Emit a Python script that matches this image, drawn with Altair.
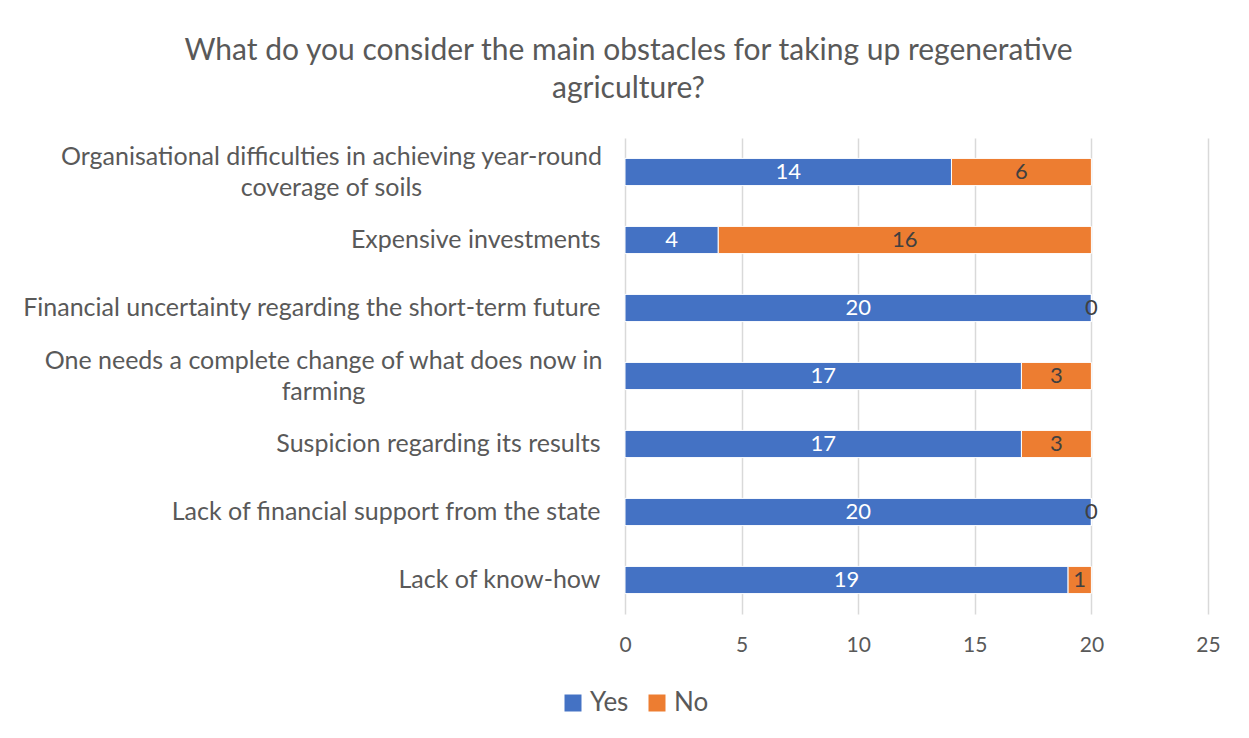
import altair as alt
import pandas as pd

categories = [
    "Organisational difficulties in achieving year-round coverage of soils",
    "Expensive investments",
    "Financial uncertainty regarding the short-term future",
    "One needs a complete change of what does now in farming",
    "Suspicion regarding its results",
    "Lack of financial support from the state",
    "Lack of know-how",
]
yes_values = [14, 4, 20, 17, 17, 20, 19]
no_values = [6, 16, 0, 3, 3, 0, 1]
series = ["Yes", "No"]
colors = ["#4472C4", "#ED7D31"]
label_colors = ["#FFFFFF", "#404040"]
x_ticks = [0, 5, 10, 15, 20, 25]

wrapped = {
    categories[0]: ["Organisational difficulties in achieving year-round", "coverage of soils"],
    categories[3]: ["One needs a complete change of what does now in", "farming"],
}
# padding (px) that puts the centred two-line block flush against the axis
wrapped_padding = {categories[0]: 294, categories[3]: 302}

rows = []
for c, y, n in zip(categories, yes_values, no_values):
    rows.append({"category": c, "series": "Yes", "value": y, "order": 0})
    rows.append({"category": c, "series": "No", "value": n, "order": 1})
df = pd.DataFrame(rows)

label_expr = ""
for k, v in wrapped.items():
    arr = "[" + ",".join("'" + s + "'" for s in v) + "]"
    label_expr += f"datum.label == '{k}' ? {arr} : "
label_expr += "datum.label"

is_wrapped = " || ".join(f"datum.value == '{k}'" for k in wrapped)

FONT = "Lato"
GREY = "#595959"

base = alt.Chart(df).transform_stack(
    stack="value", groupby=["category"], as_=["x0", "x1"],
    sort=[alt.SortField("order", order="ascending")],
).transform_calculate(mid="(datum.x0 + datum.x1) / 2")

y_axis = alt.Axis(
    labelExpr=label_expr, labelFontSize=25, labelColor=GREY,
    labelFont=FONT, labelLineHeight=31, labelLimit=800,
    ticks=False, domain=False,
    labelAlign={"condition": {"test": is_wrapped, "value": "center"}, "value": "right"},
    labelPadding={
        "condition": [{"test": f"datum.value == '{k}'", "value": v} for k, v in wrapped_padding.items()],
        "value": 25,
    },
    labelOffset={"condition": {"test": is_wrapped, "value": -15}, "value": 0},
)

y_enc = alt.Y(
    "category:N", sort=categories, title=None,
    scale=alt.Scale(paddingInner=0.6, paddingOuter=0.3),
    axis=y_axis,
)

bars = base.mark_bar(stroke="white", strokeWidth=1).encode(
    x=alt.X("x0:Q", title=None,
            scale=alt.Scale(domain=[0, 25], nice=False),
            axis=alt.Axis(values=x_ticks, grid=True, gridColor="#D9D9D9",
                          gridWidth=1.5, domain=False, ticks=False,
                          labelFontSize=21, labelColor=GREY, labelFont=FONT,
                          labelPadding=20, labelFlush=False)),
    x2="x1:Q",
    y=y_enc,
    color=alt.Color("series:N", scale=alt.Scale(domain=series, range=colors),
                    sort=series,
                    legend=alt.Legend(title=None, orient="none", direction="horizontal",
                                      legendX=-69, legendY=548,
                                      symbolType="square", symbolSize=289,
                                      symbolStrokeWidth=0, labelFontSize=26,
                                      labelColor=GREY, labelFont=FONT,
                                      labelLimit=200, padding=4,
                                      columnPadding=15, labelOffset=4)),
    order=alt.Order("order:Q"),
)

texts = base.mark_text(fontSize=22, font=FONT).encode(
    x=alt.X("mid:Q"),
    y=alt.Y("category:N", sort=categories),
    text=alt.Text("value:Q"),
    color=alt.Color("series:N", scale=alt.Scale(domain=series, range=label_colors),
                    legend=None),
)

chart = alt.layer(bars, texts).resolve_scale(color="independent").properties(
    width=583, height=476,
    background="white",
    title=alt.TitleParams(
        ["What do you consider the main obstacles for taking up regenerative", "agriculture?"],
        fontSize=30, font=FONT, color=GREY, fontWeight="normal",
        anchor="middle", frame="group", dx=-288, offset=34, lineHeight=38,
    ),
    padding={"left": 617, "top": 130, "right": 30, "bottom": 120},
    autosize=alt.AutoSizeParams(type="none"),
).configure_view(strokeWidth=0, stroke="transparent")

chart.save("out.html", embed_options={"renderer": "svg", "actions": False})
